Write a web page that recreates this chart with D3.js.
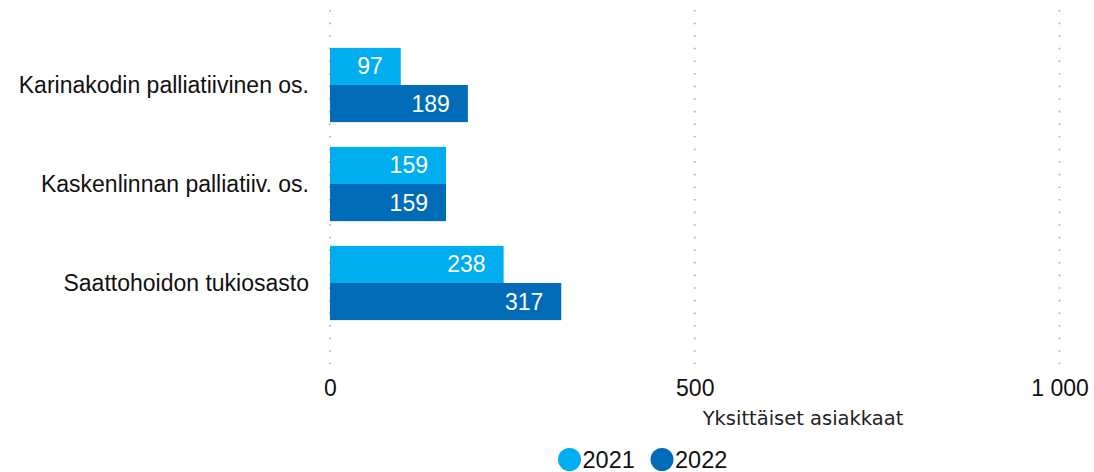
<!DOCTYPE html>
<html><head><meta charset="utf-8">
<script src="https://cdn.jsdelivr.net/npm/d3@7"></script>
<style>body{margin:0;background:#fff}svg{display:block}</style>
</head><body>
<script>
const categories = ["Karinakodin palliatiivinen os.", "Kaskenlinnan palliatiiv. os.", "Saattohoidon tukiosasto"];
const seriesNames = ["2021", "2022"];
const values2021 = [97, 159, 238];
const values2022 = [189, 159, 317];
const tickValues = [0, 500, 1000];
const tickLabels = ["0", "500", "1 000"];
const axisTitle = "Yksittäiset asiakkaat";
const colors = ["#00aeef", "#006bb6"];

const W = 1094, H = 472;
const FONT = "Liberation Sans, Arial, sans-serif";
const svg = d3.select("body").append("svg").attr("width", W).attr("height", H);

const x = d3.scaleLinear().domain([0, 1000]).range([330, 1059.5]);
const y = d3.scaleBand().domain(categories).range([35.5, 332.5]).paddingInner(0.25).paddingOuter(0.125);
const ySub = d3.scaleBand().domain(seriesNames).range([0, y.bandwidth()]);

// gridlines
svg.append("g").selectAll("line").data(tickValues).join("line")
  .attr("x1", d => x(d)).attr("x2", d => x(d))
  .attr("y1", 10).attr("y2", 364)
  .attr("stroke", "#a8a8a8").attr("stroke-width", 1.6)
  .attr("stroke-dasharray", "1.6,11");

// tick labels
const xAxis = d3.axisBottom(x).tickValues(tickValues).tickFormat((d, i) => tickLabels[i]).tickSize(0).tickPadding(0);
const ax = svg.append("g").attr("transform", "translate(0,380)").call(xAxis);
ax.select(".domain").remove();
ax.selectAll("text").attr("font-family", FONT).attr("font-size", 23).attr("fill", "#111").attr("dy", "0.71em");

// axis title
svg.append("text").attr("x", 803).attr("y", 425)
  .attr("text-anchor", "middle").attr("font-family", "DejaVu Sans, sans-serif")
  .attr("font-size", 19.5).attr("fill", "#222").text(axisTitle);

// category labels
svg.append("g").selectAll("text").data(categories).join("text")
  .attr("x", 309).attr("y", d => y(d) + y.bandwidth() / 2)
  .attr("dy", "0.35em").attr("text-anchor", "end")
  .attr("font-family", FONT).attr("font-size", 23).attr("fill", "#111")
  .text(d => d);

const data = [];
categories.forEach((c, i) => {
  data.push({cat: c, s: "2021", v: values2021[i], col: colors[0]});
  data.push({cat: c, s: "2022", v: values2022[i], col: colors[1]});
});

const g = svg.append("g");
g.selectAll("rect").data(data).join("rect")
  .attr("x", x(0)).attr("y", d => y(d.cat) + ySub(d.s))
  .attr("width", d => x(d.v) - x(0)).attr("height", ySub.bandwidth())
  .attr("fill", d => d.col);
g.selectAll("text").data(data).join("text")
  .attr("x", d => x(d.v) - 18).attr("y", d => y(d.cat) + ySub(d.s) + ySub.bandwidth() / 2)
  .attr("dy", "0.35em").attr("text-anchor", "end")
  .attr("font-family", FONT).attr("font-size", 23).attr("fill", "#fff")
  .text(d => d.v);

// legend
const leg = svg.append("g");
const lx = [569.5, 662];
seriesNames.forEach((s, i) => {
  leg.append("circle").attr("cx", lx[i]).attr("cy", 459.5).attr("r", 11.5).attr("fill", colors[i]);
  leg.append("text").attr("x", lx[i] + 13).attr("y", 459.5).attr("dy", "0.35em")
    .attr("font-family", FONT).attr("font-size", 23.5).attr("fill", "#111").text(s);
});
</script>
</body></html>
